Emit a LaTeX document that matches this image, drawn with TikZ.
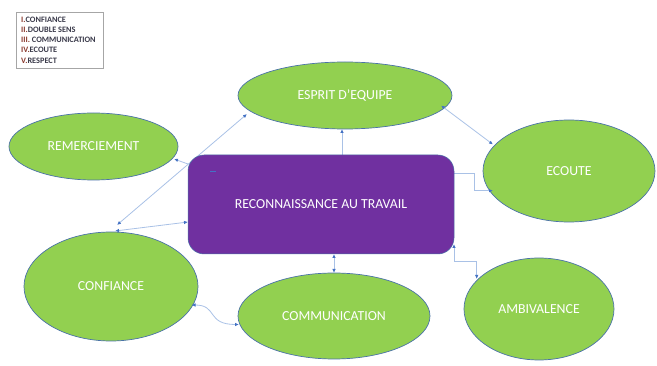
\documentclass[tikz,border=0pt]{standalone}
\usepackage{fontspec}
\setmainfont{Carlito}
\usetikzlibrary{shapes.geometric,arrows.meta}
\definecolor{leaf}{HTML}{92D050}
\definecolor{rim}{HTML}{4A72A8}
\definecolor{plum}{HTML}{7030A0}
\definecolor{wire}{HTML}{A9C1E6}
\definecolor{tip}{HTML}{4472C4}
\definecolor{numred}{HTML}{8A3A2E}
\definecolor{wordgray}{HTML}{3A3A4A}
\begin{document}
\begin{tikzpicture}
  [x=1pt,y=-1pt,every node/.style={text=white,font=\fontsize{13.8}{16}\selectfont}]
  \tikzstyle{idea} = [ellipse,draw=rim,fill=leaf,line width=0.7pt,inner sep=0pt]
  \tikzstyle{link} = [draw=wire,line width=0.8pt,>={Latex[length=4pt,width=3.5pt,color=tip]}]
  \tikzstyle{key} = [anchor=west,inner sep=0pt,font=\fontsize{8.3}{9}\selectfont\bfseries,text=wordgray]
  \useasboundingbox (0,0) rectangle (657,366);
  % legend
  \draw[gray!70,line width=0.5pt] (16,12) rectangle (103,68);
  \node[key] (k1) at (21,19.5) {\textcolor{numred}{I.}CONFIANCE};
  \node[key] (k2) at (21,29.5) {\textcolor{numred}{II.}DOUBLE SENS};
  \node[key] (k3) at (21,40) {\textcolor{numred}{III.} COMMUNICATION};
  \node[key] (k4) at (21,50) {\textcolor{numred}{IV.}ECOUTE};
  \node[key] (k5) at (21,60.5) {\textcolor{numred}{V.}RESPECT};
  % bubbles
  \node[idea,minimum width=214,minimum height=67] (esprit) at (345,95.5) {ESPRIT D’EQUIPE};
  \node[idea,minimum width=169,minimum height=67] (merci) at (93.5,146.5) {REMERCIEMENT};
  \node[idea,minimum width=172,minimum height=102] (ecoute) at (569,171) {ECOUTE};
  \node[idea,minimum width=174,minimum height=109] (conf) at (111,286.5) {CONFIANCE};
  \node[idea,minimum width=192,minimum height=86] (comm) at (334,316) {COMMUNICATION};
  \node[idea,minimum width=150,minimum height=102] (ambi) at (539,309) {AMBIVALENCE};
  % links
  \coordinate (e1) at (247,114);
  \coordinate (c1) at (117,225);
  \draw[link,<->] (e1) -- (c1);
  \coordinate (c2) at (115,231);
  \coordinate (b2) at (188,222);
  \draw[link,<->] (c2) -- (b2);
  \coordinate (b1) at (188,164);
  \coordinate (m1) at (174,159);
  \draw[link,->] (b1) -- (m1);
  \coordinate (b0) at (342,155);
  \coordinate (e0) at (342,129);
  \draw[link,->] (b0) -- (e0);
  \coordinate (e2) at (441,105.5);
  \coordinate (o1) at (493,144.5);
  \draw[link,<->] (e2) -- (o1);
  \coordinate (b3) at (454,173.3);
  \coordinate (o2) at (493,190.7);
  \draw[link,->] (b3) -- (474,173.3) -- (474,190.7) -- (o2);
  \coordinate (b4) at (454,244);
  \coordinate (a1) at (476.7,279);
  \draw[link,<->] (b4) -- (454,261.7) -- (476.7,261.7) -- (a1);
  \coordinate (b5) at (334,254);
  \coordinate (p1) at (334,273);
  \draw[link,<->] (b5) -- (p1);
  \coordinate (c3) at (191.5,305);
  \coordinate (p2) at (239,324.5);
  \draw[link,<->] (c3) .. controls (218,305) and (206,324.5) .. (p2);
  % centre
  \node[fill=plum,draw=rim,line width=0.5pt,rounded corners=16pt,minimum width=266,minimum height=99] (core) at (321,204.5) {RECONNAISSANCE AU TRAVAIL};
  \draw[tip,line width=1.2pt] (210,171.7) -- (216,171.7);
\end{tikzpicture}
\end{document}
